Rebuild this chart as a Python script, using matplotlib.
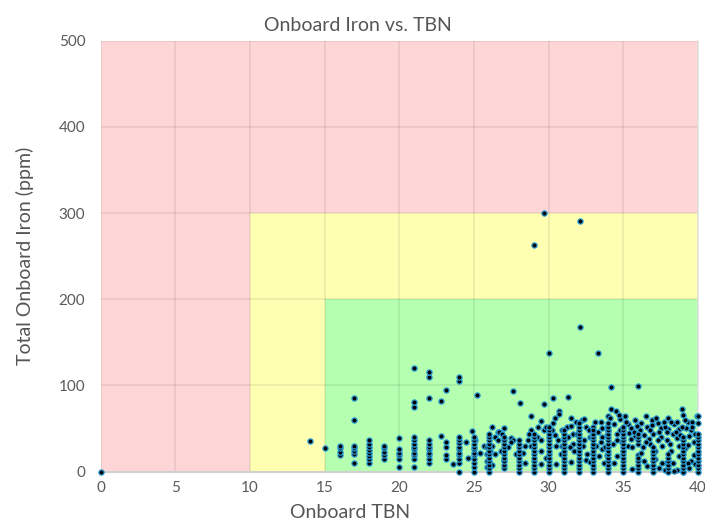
import matplotlib.pyplot as plt

plt.rcParams['font.family'] = ['Lato', 'DejaVu Sans']

# 縦に並ぶ列 (TBN ごとの鉄分 ppm)
col_tbn = [16, 17, 18, 19, 20, 21, 22, 23.1, 24, 25, 26, 27, 28,
           29, 30, 31, 32, 33, 34, 35, 36, 37, 38, 39, 40]
col_iron = [
    [19, 23, 27, 30],
    [10, 20, 24, 27, 30, 60, 85],
    [10, 15, 18, 22, 25, 29, 32, 36],
    [15, 19, 23, 27, 30],
    [5, 15, 19, 22, 26, 39],
    [5, 15, 19, 22, 26, 29, 32, 36, 40, 75, 81, 120],
    [10, 15, 19, 22, 26, 29, 32, 36, 85, 110, 115],
    [15, 19, 29, 34, 95],
    [0, 10, 15, 19, 22, 26, 29, 33, 36, 40, 105, 110],
    [0, 5, 10, 15, 19, 22, 26, 29, 32, 36, 40],
    [0, 4, 8, 12, 16, 20, 24, 28, 32, 36, 40, 44],
    [4, 8, 12, 16, 20, 24, 28, 32, 36, 40],
    [0, 4, 8, 12, 16, 20, 24, 28, 32, 36],
    [0, 4, 8, 12, 16, 20, 24, 28, 32, 36, 40, 44],
    [0, 4, 8, 12, 16, 20, 24, 28, 32, 36, 40, 44, 48, 52],
    [0, 4, 8, 12, 16, 20, 24, 28, 32, 36, 40, 44, 48],
    [0, 4, 8, 12, 16, 20, 24, 28, 32, 36, 40, 44, 48, 52, 56],
    [0, 4, 8, 12, 16, 20, 24, 28, 32, 36, 40, 44, 48],
    [0, 4, 8, 12, 16, 20, 24, 28, 32, 36, 40, 44, 48, 52, 56],
    [0, 4, 8, 12, 16, 20, 24, 28, 32, 36, 40, 44, 48, 52],
    [0, 4, 8, 12, 16, 32, 36, 40, 44],
    [0, 4, 8, 12, 16, 20, 24, 28],
    [0, 4, 8, 12, 16, 20],
    [0, 4, 8, 12, 16, 20, 24, 28, 32, 36, 40],
    [0, 4, 8, 12, 16, 20, 24, 28, 32, 36, 40, 44],
]

# 列から外れた点
spread_tbn = [
    0, 14, 15, 22.8, 22.8, 23.6, 24.5, 24.6, 24.9, 25.2,
    25.1, 25.4, 25.7, 25.9, 25.9, 25.9, 25.9, 26.2, 26.6, 26.4,
    26.7, 26.9, 27.0, 27.5, 27.6, 26.2, 26.4, 26.2, 26.1, 27.0,
    27.6, 28.1, 28.8, 29.5, 29.0, 29.7, 29.7, 30.0, 30.3, 30.7,
    30.7, 31.3, 31.5, 32.1, 32.1, 33.3, 34.2, 36.0, 28.8, 29.2,
    29.5, 29.7, 29.8, 30.3, 30.2, 30.4, 30.6, 30.9, 31.2, 31.5,
    31.3, 31.6, 31.8, 32.2, 32.4, 32.5, 32.7, 32.8, 33.3, 30.9,
    31.6, 32.3, 32.6, 31.7, 30.5, 29.5, 28.6, 28.4, 28.8, 28.3,
    27.5, 26.6, 28.4, 29.5, 30.5, 31.5, 32.5, 32.8, 33.0, 33.6,
    34.2, 34.5, 34.8, 35.8, 36.5, 38.9, 39.0, 39.9, 38.4, 38.6,
    39.3, 37.3, 33.9, 34.4, 35.3, 35.0, 35.5, 36.1, 37.5, 38.0,
    38.7, 39.5, 33.6, 33.9, 34.6, 35.4, 35.8, 36.4, 36.7, 37.0,
    37.5, 37.9, 38.3, 38.6, 39.0, 39.4, 39.7, 32.9, 33.5, 34.3,
    34.9, 35.3, 36.3, 36.8, 37.6, 38.1, 38.7, 39.1, 39.7, 38.7,
    39.5, 39.3, 39.8, 38.1, 37.9, 38.3, 37.6, 37.1, 34.4, 33.7,
    33.4, 33.9, 36.0, 35.6, 36.2, 37.1, 37.4, 37.8, 38.5, 38.8,
    39.2, 39.6, 40.0, 40.0, 36.6, 35.5, 34.6, 33.6, 38.2, 39.8,
    33.1, 34.0, 35.2, 36.9, 37.7, 38.0, 36.2, 34.8, 33.2, 32.4,
    31.4, 30.8, 29.8, 28.7, 27.3, 26.8, 27.8, 31.9, 30.4, 29.3,
    37.4, 38.6, 39.4, 36.6, 35.6, 37.8, 39.0, 38.4, 36.4, 34.6,
    33.5, 34.1, 34.7, 35.1, 35.9, 36.8, 37.2, 38.2, 39.1, 39.6,
    34.0, 35.7, 36.9, 37.9, 38.9, 33.8, 35.0, 36.5, 37.3, 39.3,
]
spread_iron = [
    0, 35, 27, 82, 41, 9, 34, 16, 47, 89,
    37, 22, 30, 5, 12, 20, 28, 52, 46, 40,
    46, 43, 50, 39, 36, 30, 20, 7, 24, 13,
    94, 80, 64, 59, 263, 300, 78, 137, 85, 70,
    67, 87, 62, 291, 168, 138, 98, 99, 48, 40,
    37, 48, 52, 56, 48, 42, 36, 48, 52, 53,
    40, 44, 57, 60, 61, 52, 48, 40, 46, 30,
    32, 30, 20, 24, 30, 24, 36, 30, 30, 22,
    34, 36, 10, 9, 9, 11, 13, 11, 52, 50,
    73, 70, 61, 60, 64, 72, 66, 64, 55, 57,
    57, 56, 52, 55, 55, 51, 51, 48, 51, 49,
    49, 48, 40, 42, 44, 45, 41, 42, 38, 44,
    40, 36, 44, 39, 36, 41, 34, 40, 34, 32,
    34, 30, 28, 32, 30, 32, 30, 27, 19, 18,
    12, 10, 9, 10, 10, 10, 10, 15, 10, 10,
    18, 19, 19, 28, 22, 24, 46, 52, 46, 42,
    50, 58, 56, 64, 52, 38, 36, 26, 24, 44,
    57, 64, 58, 60, 58, 62, 56, 48, 30, 36,
    28, 20, 16, 44, 28, 24, 20, 44, 62, 52,
    4, 2, 4, 6, 3, 2, 0, 1, 12, 18,
    58, 62, 66, 64, 53, 48, 62, 58, 60, 52,
    47, 46, 54, 46, 52, 28, 24, 34, 36, 31,
]

tbn = list(spread_tbn)
iron = list(spread_iron)
for x, ys in zip(col_tbn, col_iron):
    tbn += [x] * len(ys)
    iron += ys

# ゾーン
red_max = 500
yellow_tbn, yellow_iron = 10, 300
green_tbn, green_iron = 15, 200

fig = plt.figure(figsize=(7.05, 5.26), dpi=100)
ax = fig.add_axes([0.1426, 0.1036, 0.8475, 0.819])

ax.fill_between([0, 40], 0, red_max, color='#ffd6d8', zorder=0, linewidth=0)
ax.fill_between([yellow_tbn, 40], 0, yellow_iron, color='#ffffb2', zorder=0, linewidth=0)
ax.fill_between([green_tbn, 40], 0, green_iron, color='#b4ffb0', zorder=0, linewidth=0)

ax.scatter(tbn, iron, s=14, c='black', edgecolors='#2b9bd6',
           linewidths=0.9, zorder=3, clip_on=False)

ax.set_xlim(0, 40)
ax.set_ylim(0, 500)
ax.set_xticks(range(0, 41, 5))
ax.set_yticks(range(0, 501, 100))
ax.grid(True, color='black', alpha=0.07, linewidth=1.4)
ax.set_axisbelow(True)

for side in ['top', 'left']:
    ax.spines[side].set_visible(False)
ax.spines['bottom'].set_color('#d0d0d0')
ax.spines['bottom'].set_linewidth(1.5)
ax.spines['right'].set_color('#e2e2e2')
ax.spines['right'].set_linewidth(1.2)

ax.tick_params(length=0, labelsize=11, labelcolor='#5a5a5a')
ax.tick_params(axis='y', pad=11)
ax.tick_params(axis='x', pad=7)

ax.set_title('Onboard Iron vs. TBN', fontsize=14, color='#555555',
             x=0.43, pad=7)
ax.set_xlabel('Onboard TBN', fontsize=14, color='#555555',
              x=0.418, labelpad=6)
ax.set_ylabel('Total Onboard Iron (ppm)', fontsize=14, color='#555555',
              labelpad=18)

plt.savefig('out.png', dpi=100)
